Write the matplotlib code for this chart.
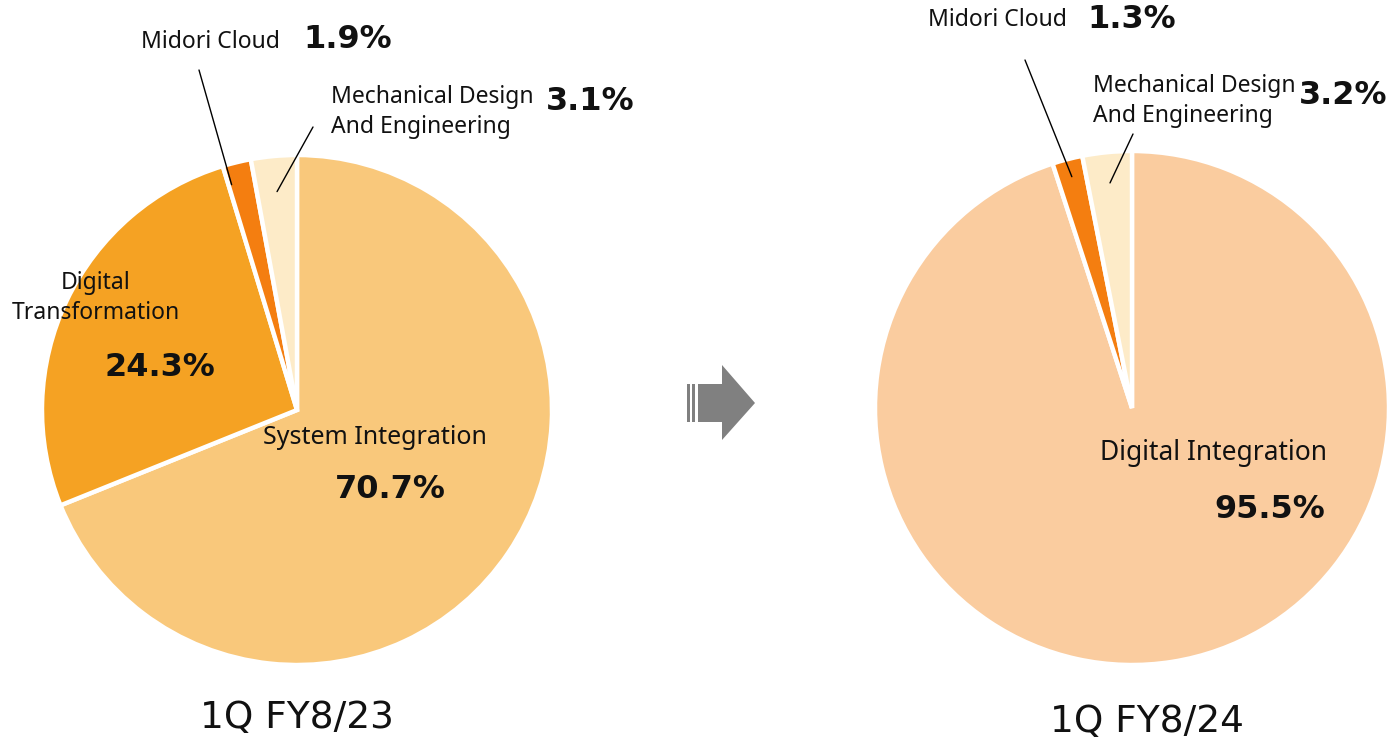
import numpy as np
import matplotlib
matplotlib.use("Agg")
import matplotlib.pyplot as plt
from matplotlib.patches import Polygon, Rectangle

# data: wedge sizes as drawn, percent texts as printed
segments_23 = ["System Integration", "Digital\nTransformation", "Midori Cloud",
               "Mechanical Design\nAnd Engineering"]
wedges_23 = [68.9, 26.4, 1.8, 2.9]
pct_labels_23 = ["70.7%", "24.3%", "1.9%", "3.1%"]
colors_23 = ["#F9C87B", "#F5A223", "#F47E10", "#FDEBC8"]

segments_24 = ["Digital Integration", "Midori Cloud", "Mechanical Design\nAnd Engineering"]
wedges_24 = [95.0, 1.9, 3.1]
pct_labels_24 = ["95.5%", "1.3%", "3.2%"]
colors_24 = ["#FACC9F", "#F47E10", "#FDEBC8"]

periods = ["1Q FY8/23", "1Q FY8/24"]

W, H = 1391, 741
LABEL_FONT = "Noto Sans"
NUM_FONT = "DejaVu Sans"


def Y(py):
    return H - py


def wedge_point(center, radius, shares, idx, frac, shift=0.0):
    # wedges go clockwise from 12 o'clock; shift in degrees
    start = 90 - sum(shares[:idx]) * 3.6
    mid = np.deg2rad(start - shares[idx] * 3.6 / 2 + shift)
    return (center[0] + frac * radius * np.cos(mid),
            center[1] + frac * radius * np.sin(mid))


fig = plt.figure(figsize=(W / 100, H / 100), dpi=100)
ax = fig.add_axes([0, 0, 1, 1])

c1, r1 = (297, Y(410)), 255
c2, r2 = (1132, Y(408)), 257

wp = dict(edgecolor="white", linewidth=3.2)
ax.pie(wedges_23, colors=colors_23, startangle=90, counterclock=False,
       center=c1, radius=r1, wedgeprops=wp)
ax.pie(wedges_24, colors=colors_24, startangle=90, counterclock=False,
       center=c2, radius=r2, wedgeprops=wp)

ax.set_xlim(0, W)
ax.set_ylim(0, H)
ax.set_aspect("equal")
ax.axis("off")

lab = dict(fontsize=16.5, family=LABEL_FONT, color="#111111")
pct = dict(fontsize=23, family=NUM_FONT, fontweight="bold", color="#111111")
line = dict(arrowstyle="-", color="black", lw=1, shrinkA=0, shrinkB=0)

# left pie
ax.text(210, Y(42), segments_23[2], ha="center", va="center", **lab)
ax.text(348, Y(40), pct_labels_23[2], ha="center", va="center", **pct)
ax.annotate("", xy=wedge_point(c1, r1, wedges_23, 2, 0.92, shift=2.5), xytext=(199, Y(70)),
            arrowprops=line)
ax.text(331, Y(112), segments_23[3], ha="left", va="center", linespacing=1.3, **lab)
ax.text(590, Y(101), pct_labels_23[3], ha="center", va="center", **pct)
ax.annotate("", xy=wedge_point(c1, r1, wedges_23, 3, 0.86), xytext=(313, Y(127)), arrowprops=line)
ax.text(96, Y(298), segments_23[1], ha="center", va="center", linespacing=1.3, **lab)
ax.text(160, Y(368), pct_labels_23[1], ha="center", va="center", **pct)
ax.text(375, Y(438), segments_23[0], ha="center", va="center",
        **{**lab, "fontsize": 18})
ax.text(390, Y(490), pct_labels_23[0], ha="center", va="center", **pct)
ax.text(297, Y(718), periods[0], ha="center", va="center", fontsize=27, family=NUM_FONT,
        color="#111111")

# right pie
ax.text(997, Y(20), segments_24[1], ha="center", va="center", **lab)
ax.text(1132, Y(19), pct_labels_24[1], ha="center", va="center", **pct)
ax.annotate("", xy=wedge_point(c2, r2, wedges_24, 1, 0.93), xytext=(1025, Y(60)), arrowprops=line)
ax.text(1093, Y(101), segments_24[2], ha="left", va="center", linespacing=1.3, **lab)
ax.text(1343, Y(95), pct_labels_24[2], ha="center", va="center", **pct)
ax.annotate("", xy=wedge_point(c2, r2, wedges_24, 2, 0.88), xytext=(1133, Y(134)), arrowprops=line)
ax.text(1214, Y(453), segments_24[0], ha="center", va="center",
        **{**lab, "fontsize": 19})
ax.text(1270, Y(510), pct_labels_24[0], ha="center", va="center", **pct)
ax.text(1147, Y(722), periods[1], ha="center", va="center", fontsize=27, family=NUM_FONT,
        color="#111111")

# arrow between the pies
grey = "#808080"
ax.add_patch(Rectangle((687, Y(422)), 3.4, 38, color=grey, lw=0))
ax.add_patch(Rectangle((692, Y(422)), 3.4, 38, color=grey, lw=0))
ax.add_patch(Polygon([(698, Y(384)), (722, Y(384)), (722, Y(365)), (755, Y(403)),
                      (722, Y(440)), (722, Y(422)), (698, Y(422))],
                     closed=True, color=grey, lw=0))

fig.savefig("out.png", dpi=100)
